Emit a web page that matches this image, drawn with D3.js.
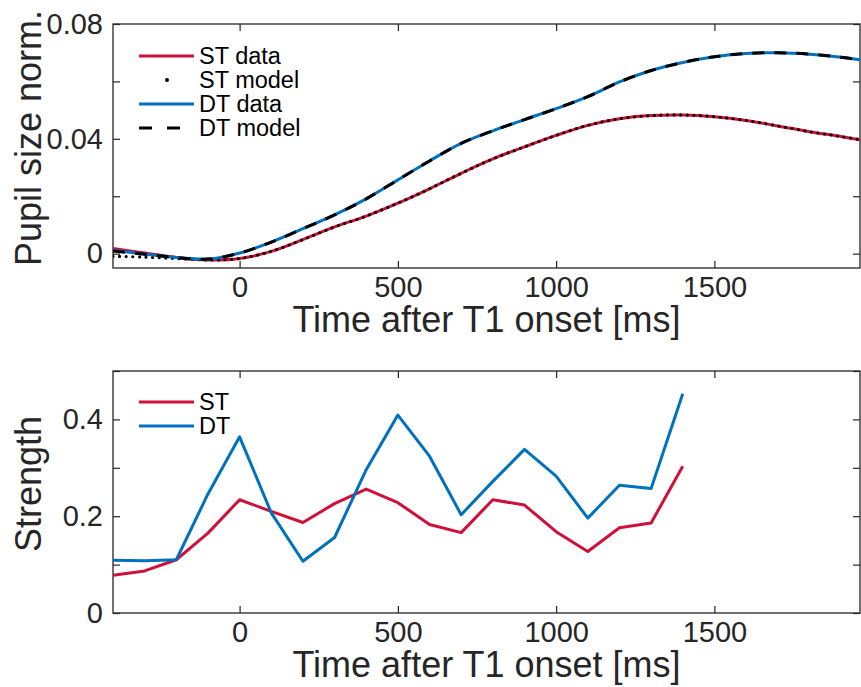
<!DOCTYPE html>
<html>
<head>
<meta charset="utf-8">
<script src="https://cdn.jsdelivr.net/npm/d3@7"></script>
<style>
  body { margin: 0; background: #fff; }
  text { font-family: Arial, "Liberation Sans", Helvetica, sans-serif; }
</style>
</head>
<body>
<svg id="chart" width="861" height="687"></svg>
<script>
var pupilTime = [-400, -300, -200, -100, 0, 100, 200, 300, 400, 500, 600, 700, 800, 900,
  1000, 1100, 1200, 1300, 1400, 1500, 1600, 1700, 1800, 1900, 1960]
var stData = [0.0018, 0.0002, -0.0013, -0.0022, -0.0017, 0.0008, 0.0049, 0.0093, 0.0131, 0.0176,
  0.0226, 0.0280, 0.0330, 0.0372, 0.0412, 0.0447, 0.0470, 0.0481, 0.0483, 0.0477,
  0.0464, 0.0445, 0.0425, 0.0408, 0.0397]
var stModel = [-0.0009, -0.0012, -0.0017, -0.0022, -0.0017, 0.0008, 0.0049, 0.0093, 0.0131, 0.0176,
  0.0226, 0.0280, 0.0330, 0.0372, 0.0412, 0.0447, 0.0470, 0.0481, 0.0483, 0.0477,
  0.0464, 0.0445, 0.0425, 0.0408, 0.0397]
var dtData = [0.0012, -0.0001, -0.0013, -0.0019, 0.0002, 0.0040, 0.0087, 0.0135, 0.0191, 0.0257,
  0.0323, 0.0384, 0.0428, 0.0467, 0.0505, 0.0547, 0.0598, 0.0638, 0.0666, 0.0686,
  0.0697, 0.0700, 0.0695, 0.0684, 0.0675]
var dtModel = [0.0009, -0.0002, -0.0014, -0.0019, 0.0002, 0.0040, 0.0087, 0.0135, 0.0191, 0.0257,
  0.0323, 0.0384, 0.0428, 0.0467, 0.0505, 0.0547, 0.0598, 0.0638, 0.0666, 0.0686,
  0.0697, 0.0700, 0.0695, 0.0684, 0.0675]

// strength per 100 ms bin
var strengthTime = [-400, -300, -200, -100, 0, 100, 200, 300, 400, 500, 600, 700, 800, 900,
  1000, 1100, 1200, 1300, 1400]
var stStrength = [0.078, 0.087, 0.110, 0.165, 0.234, 0.210, 0.187, 0.226, 0.256, 0.228,
  0.183, 0.166, 0.234, 0.223, 0.168, 0.127, 0.176, 0.186, 0.303]
var dtStrength = [0.109, 0.108, 0.110, 0.246, 0.364, 0.207, 0.107, 0.156, 0.296, 0.409,
  0.324, 0.203, 0.272, 0.338, 0.283, 0.196, 0.264, 0.257, 0.453]

var timeTicks = [0, 500, 1000, 1500]
var pupilTicks = [0, 0.02, 0.04, 0.06, 0.08]
var pupilLabels = [0, 0.04, 0.08]
var strengthTicks = [0, 0.1, 0.2, 0.3, 0.4, 0.5]
var strengthLabels = [0, 0.2, 0.4]

var colorST = '#d0103a'
var colorDT = '#0072bd'
var colorAxis = '#262626'

var svg = d3.select('#chart')
var left = 113, right = 860
var smooth = d3.curveCatmullRom.alpha(0.5)

function panel(opts) {
  var x = d3.scaleLinear().domain([-400, 1960]).range([left, right])
  var y = d3.scaleLinear().domain(opts.yDomain).range([opts.bottom, opts.top])
  var g = svg.append('g')

  var clipId = 'clip' + opts.top
  g.append('clipPath').attr('id', clipId)
    .append('rect')
    .attr('x', left).attr('y', opts.top)
    .attr('width', right - left).attr('height', opts.bottom - opts.top)

  function fmt(v) {
    return opts.yLabels.some(function (l) { return Math.abs(l - v) < 1e-9 }) ? String(+v.toFixed(2)) : ''
  }

  // axes, ticks pointing inward, MATLAB style box
  g.append('g').attr('transform', 'translate(0,' + opts.bottom + ')')
    .call(d3.axisBottom(x).tickValues(timeTicks).tickSize(-7).tickPadding(8).tickFormat(d3.format('d')))
  g.append('g').attr('transform', 'translate(0,' + opts.top + ')')
    .call(d3.axisTop(x).tickValues(timeTicks).tickSize(-7).tickFormat(''))
  g.append('g').attr('transform', 'translate(' + left + ',0)')
    .call(d3.axisLeft(y).tickValues(opts.yTicks).tickSize(-7).tickPadding(10).tickFormat(fmt))
  g.append('g').attr('transform', 'translate(' + right + ',0)')
    .call(d3.axisRight(y).tickValues(opts.yTicks).tickSize(-7).tickFormat(''))

  g.selectAll('.domain').remove()
  g.selectAll('.tick line').attr('stroke', colorAxis).attr('stroke-width', 1.2)
  g.selectAll('.tick text').attr('fill', colorAxis).style('font-size', '29px')

  g.append('rect')
    .attr('x', left).attr('y', opts.top)
    .attr('width', right - left).attr('height', opts.bottom - opts.top)
    .attr('fill', 'none').attr('stroke', colorAxis).attr('stroke-width', 1.3)

  g.append('text')
    .attr('x', (left + right) / 2).attr('y', opts.bottom + 64)
    .attr('text-anchor', 'middle').attr('fill', colorAxis)
    .style('font-size', '36px')
    .text('Time after T1 onset [ms]')

  g.append('text')
    .attr('transform', 'translate(41,' + ((opts.top + opts.bottom) / 2 - 8) + ') rotate(-90)')
    .attr('text-anchor', 'middle').attr('fill', colorAxis)
    .style('font-size', '36px')
    .text(opts.yTitle)

  var plot = g.append('g').attr('clip-path', 'url(#' + clipId + ')')
  return { x: x, y: y, plot: plot, g: g }
}

function drawLine(p, times, values, style) {
  var line = d3.line()
    .x(function (d, i) { return p.x(times[i]) })
    .y(function (d) { return p.y(d) })
    .curve(style.curve || d3.curveLinear)
  p.plot.append('path')
    .datum(values)
    .attr('d', line)
    .attr('fill', 'none')
    .attr('stroke', style.color)
    .attr('stroke-width', style.width || 3)
    .attr('stroke-linecap', style.cap || 'butt')
    .attr('stroke-linejoin', 'round')
    .attr('stroke-dasharray', style.dash || null)
}

function legend(g, items, x0, y0) {
  items.forEach(function (it, i) {
    var yy = y0 + i * 24
    if (it.dot) {
      g.append('circle').attr('cx', x0 + 28).attr('cy', yy).attr('r', 2).attr('fill', '#000')
    } else {
      g.append('line')
        .attr('x1', x0).attr('x2', x0 + 55).attr('y1', yy).attr('y2', yy)
        .attr('stroke', it.color).attr('stroke-width', 3)
        .attr('stroke-dasharray', it.dash || null)
    }
    g.append('text')
      .attr('x', x0 + 60).attr('y', yy).attr('dy', '0.36em')
      .attr('fill', '#000').style('font-size', '23.5px')
      .text(it.label)
  })
}

// top panel: pupil size
var pupilPanel = panel({ top: 24, bottom: 268, yDomain: [-0.005, 0.08], yTicks: pupilTicks, yLabels: pupilLabels, yTitle: 'Pupil size norm.' })
drawLine(pupilPanel, pupilTime, stData, { color: colorST, curve: smooth })
drawLine(pupilPanel, pupilTime, stModel, { color: '#000', curve: smooth, width: 3.2, dash: '0 6.6', cap: 'round' })
drawLine(pupilPanel, pupilTime, dtData, { color: colorDT, curve: smooth })
drawLine(pupilPanel, pupilTime, dtModel, { color: '#000', curve: smooth, dash: '12 10' })
legend(pupilPanel.g, [
  { label: 'ST data', color: colorST },
  { label: 'ST model', dot: true },
  { label: 'DT data', color: colorDT },
  { label: 'DT model', color: '#000', dash: '13 15' }
], 139, 56)

// bottom panel: strength
var strengthPanel = panel({ top: 371, bottom: 613, yDomain: [0, 0.5], yTicks: strengthTicks, yLabels: strengthLabels, yTitle: 'Strength' })
drawLine(strengthPanel, strengthTime, stStrength, { color: colorST })
drawLine(strengthPanel, strengthTime, dtStrength, { color: colorDT })
legend(strengthPanel.g, [
  { label: 'ST', color: colorST },
  { label: 'DT', color: colorDT }
], 139, 402)
</script>
</body>
</html>
